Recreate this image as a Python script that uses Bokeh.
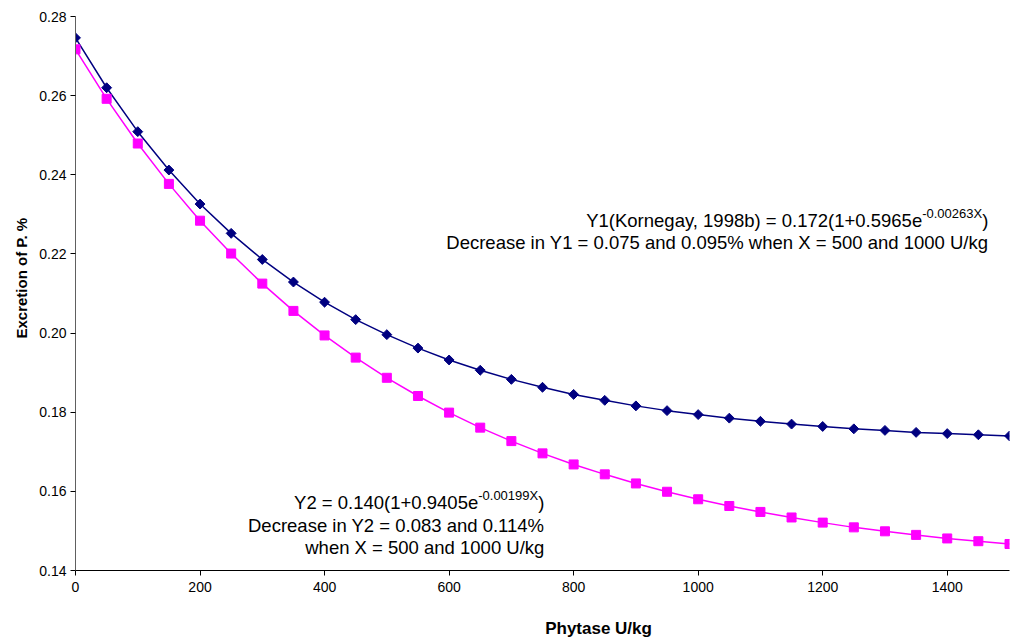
import math
from bokeh.plotting import figure
from bokeh.models import Range1d, Title, Label, FixedTicker, NumeralTickFormatter
from bokeh.embed import file_html
from bokeh.resources import INLINE
from bokeh.core.properties import value

# ---- data ----
phytase = [0, 50, 100, 150, 200, 250, 300, 350, 400, 450, 500, 550, 600, 650, 700, 750,
           800, 850, 900, 950, 1000, 1050, 1100, 1150, 1200, 1250, 1300, 1350, 1400, 1450, 1500]
y1_excretion = [0.2746, 0.2620, 0.2509, 0.2412, 0.2326, 0.2252, 0.2186, 0.2129, 0.2078, 0.2034,
                0.1996, 0.1962, 0.1932, 0.1906, 0.1883, 0.1863, 0.1845, 0.1830, 0.1816, 0.1804,
                0.1794, 0.1785, 0.1777, 0.1770, 0.1764, 0.1758, 0.1754, 0.1749, 0.1746, 0.1743, 0.1740]
y2_excretion = [0.2717, 0.2592, 0.2479, 0.2377, 0.2284, 0.2201, 0.2125, 0.2056, 0.1994, 0.1938,
                0.1887, 0.1841, 0.1799, 0.1761, 0.1727, 0.1696, 0.1668, 0.1643, 0.1620, 0.1599,
                0.1580, 0.1563, 0.1548, 0.1534, 0.1521, 0.1509, 0.1499, 0.1490, 0.1481, 0.1474, 0.1467]
x_ticks = [0, 200, 400, 600, 800, 1000, 1200, 1400]
y_ticks = [0.14, 0.16, 0.18, 0.20, 0.22, 0.24, 0.26, 0.28]

FONT = "Liberation Sans"
NAVY = "#000080"
MAGENTA = "#FF00FF"

p = figure(width=1012, height=641, output_backend="svg", toolbar_location=None,
           x_range=Range1d(0, 1500), y_range=Range1d(0.14, 0.28),
           min_border_left=75, min_border_right=3, min_border_top=16, min_border_bottom=71)
p.outline_line_color = None
p.grid.visible = False
p.background_fill_color = "white"
p.border_fill_color = "white"

for ax in (p.xaxis[0], p.yaxis[0]):
    ax.axis_line_color = "black"
    ax.major_tick_line_color = "black"
    ax.major_tick_in = 0
    ax.major_tick_out = 5
    ax.minor_tick_line_color = None
    ax.major_label_text_font = FONT
    ax.major_label_text_font_size = "14px"
    ax.major_label_text_color = "black"
p.yaxis.axis_line_color = "#606060"
p.xaxis.ticker = FixedTicker(ticks=x_ticks)
p.yaxis.ticker = FixedTicker(ticks=y_ticks)
p.yaxis.formatter = NumeralTickFormatter(format="0.00")
p.xaxis.major_label_standoff = 6
p.yaxis.major_label_standoff = 4

# series
p.line(phytase, y1_excretion, line_color=NAVY, line_width=1.5)
p.scatter(phytase, y1_excretion, marker="square", angle=math.pi / 4, size=7,
          fill_color=NAVY, line_color=NAVY)
p.line(phytase, y2_excretion, line_color=MAGENTA, line_width=1.5)
p.scatter(phytase, y2_excretion, marker="square", size=9,
          fill_color=MAGENTA, line_color=MAGENTA)

# axis titles
p.add_layout(Title(text="Excretion of P. %", align="left", offset=232, standoff=14,
                   text_font=FONT, text_font_size="15px", text_font_style="bold",
                   text_color="black"), "left")
p.add_layout(Label(x=840, y=0.1253, text="Phytase U/kg",
                   text_font=FONT, text_font_size="17px", text_font_style="bold",
                   text_align="center", text_baseline="middle", text_color="black"), "below")

# annotations
AW = {'-': 333, '.': 278, 'X': 667, ')': 333}
AW.update({d: 556 for d in "0123456789"})


def width(s, size):
    return sum(AW[c] for c in s) * size / 1000.0


def eq_line(xr, yb, main, sup, size, sup_size, raise_px):
    close_w = width(")", size)
    sup_w = width(sup, sup_size)
    common = dict(text_align="right", text_baseline="alphabetic", text_color="black",
                  text_font=value(FONT))
    p.text(x=[xr], y=[yb], text=[")"], text_font_size=f"{size}px", **common)
    p.text(x=[xr], y=[yb], text=[sup], text_font_size=f"{sup_size}px",
           x_offset=-close_w, y_offset=-raise_px, **common)
    p.text(x=[xr], y=[yb], text=[main], text_font_size=f"{size}px",
           x_offset=-(close_w + sup_w), **common)


def plain_line(xr, yb, s, size):
    p.text(x=[xr], y=[yb], text=[s], text_font_size=f"{size}px", text_align="right",
           text_baseline="alphabetic", text_color="black", text_font=value(FONT))


S = 18.5
SUP = 13
eq_line(1466, 0.2284, "Y1(Kornegay, 1998b) = 0.172(1+0.5965e", "-0.00263X", S, SUP, 7)
plain_line(1466, 0.2229, "Decrease in Y1 = 0.075 and 0.095% when X = 500 and 1000 U/kg", S)

eq_line(753, 0.15718, "Y2 = 0.140(1+0.9405e", "-0.00199X", S, SUP, 7)
plain_line(753, 0.15137, "Decrease in Y2 = 0.083 and 0.114%", S)
plain_line(753, 0.14581, "when X = 500 and 1000 U/kg", S)

open("out.html", "w").write(file_html(p, INLINE))
